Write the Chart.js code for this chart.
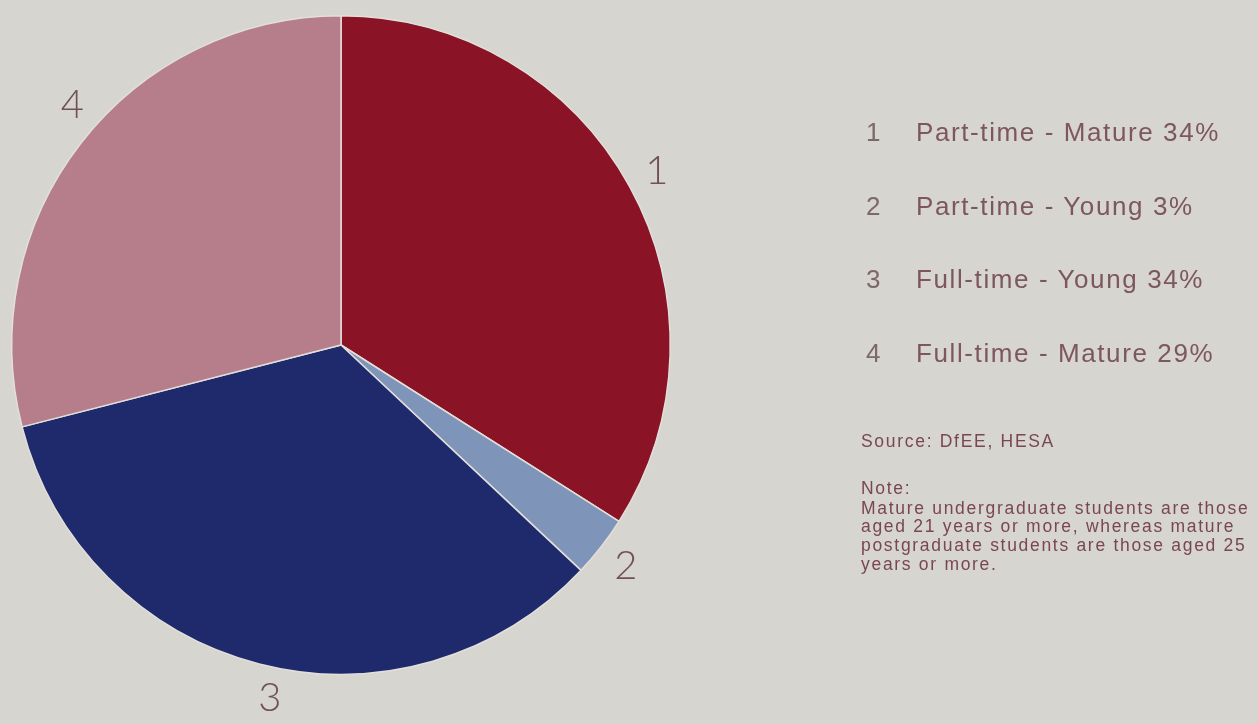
<!DOCTYPE html>
<html>
<head>
<meta charset="utf-8">
<script src="https://cdn.jsdelivr.net/npm/chart.js@4.4.1/dist/chart.umd.min.js"></script>
<style>
  html, body { margin: 0; padding: 0; background: #d6d5cf; }
  #wrap { position: relative; width: 1258px; height: 724px; overflow: hidden; }
  #wrap canvas { position: absolute; left: 0; top: 0; }
  .side { position: absolute; font-family: "Liberation Sans", Arial, Helvetica, sans-serif; }
  .row { position: absolute; height: 30px; line-height: 30px; font-size: 26px; letter-spacing: 1.6px; white-space: nowrap; }
  .row .num { position: absolute; left: 0; color: #7e676b; }
  .row .txt { position: absolute; left: 50px; color: #7d565e; }
  #notes { position: absolute; left: 861px; top: 432px; font-size: 17.5px; letter-spacing: 1.7px; line-height: 18.8px; color: #7a4652; }
  #notes p { margin: 0; }
</style>
</head>
<body>
<div id="wrap">
  <canvas id="chart" width="1258" height="724"></canvas>
  <div class="side" id="legend"></div>
  <div class="side" id="notes"></div>
</div>
<script>
// Student population by mode and age group (percent)
const categories = ['Part-time - Mature', 'Part-time - Young', 'Full-time - Young', 'Full-time - Mature'];
const sliceNumbers = ['1', '2', '3', '4'];
const shares = [34, 3, 34, 29];
const sliceColors = ['#8a1426', '#7e94b9', '#1e2a6c', '#b57e8a'];
const sourceText = 'Source: DfEE, HESA';
const noteLines = [
  'Note:',
  'Mature undergraduate students are those',
  'aged 21 years or more, whereas mature',
  'postgraduate students are those aged 25',
  'years or more.'
];

// Numbered legend on the right
const legendEl = document.getElementById('legend');
const legendTop = 117, legendStep = 73.5;
categories.forEach((cat, i) => {
  const row = document.createElement('div');
  row.className = 'row';
  row.style.left = '866px';
  row.style.top = (legendTop + i * legendStep) + 'px';
  const n = document.createElement('span');
  n.className = 'num';
  n.textContent = sliceNumbers[i];
  const t = document.createElement('span');
  t.className = 'txt';
  t.textContent = cat + ' ' + shares[i] + '%';
  row.appendChild(n);
  row.appendChild(t);
  legendEl.appendChild(row);
});

// Source and note block
const notesEl = document.getElementById('notes');
const src = document.createElement('p');
src.textContent = sourceText;
src.style.marginBottom = '28px';
notesEl.appendChild(src);
noteLines.forEach((line, i) => {
  const p = document.createElement('p');
  p.textContent = line;
  if (i === 0) p.style.marginBottom = '1px';
  notesEl.appendChild(p);
});

// Slice numbers drawn just outside the pie, near each slice's mid-angle
const sliceNumberPlugin = {
  id: 'sliceNumbers',
  afterDatasetsDraw(chart, args, opts) {
    const ctx = chart.ctx;
    const meta = chart.getDatasetMeta(0);
    const shift = opts.angleShift || [];
    ctx.save();
    ctx.font = '300 40px Lato, "Liberation Sans", Arial, sans-serif';
    ctx.fillStyle = '#71505a';
    ctx.textAlign = 'center';
    ctx.textBaseline = 'middle';
    meta.data.forEach((arc, i) => {
      const p = arc.getProps(['x', 'y', 'startAngle', 'endAngle', 'outerRadius'], true);
      const mid = (p.startAngle + p.endAngle) / 2 + (shift[i] || 0) * Math.PI / 180;
      const r = p.outerRadius * opts.radiusFactor;
      ctx.fillText(sliceNumbers[i], p.x + Math.cos(mid) * r, p.y + Math.sin(mid) * r);
    });
    ctx.restore();
  }
};

new Chart(document.getElementById('chart'), {
  type: 'pie',
  data: {
    labels: categories,
    datasets: [{
      data: shares,
      backgroundColor: sliceColors,
      borderColor: '#e2dfdb',
      borderWidth: 1.5
    }]
  },
  options: {
    responsive: false,
    animation: false,
    layout: { padding: { left: 11, top: 15, right: 587, bottom: 49 } },
    plugins: {
      legend: { display: false },
      tooltip: { enabled: false },
      sliceNumbers: { radiusFactor: 1.095, angleShift: [0, 0, -3, 4] }
    }
  },
  plugins: [sliceNumberPlugin]
});
</script>
</body>
</html>
